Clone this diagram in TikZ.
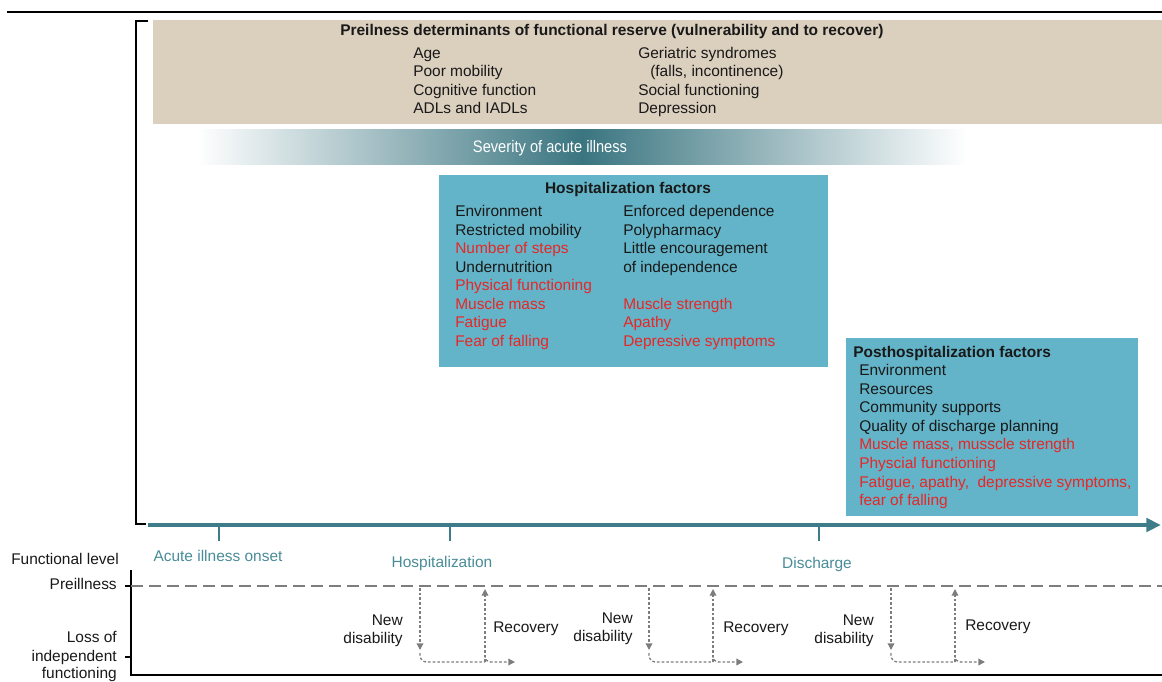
\documentclass[tikz,border=0pt]{standalone}
\usepackage{fontspec}
\setmainfont{Liberation Sans}
\newfontfamily\narrowsans[FakeStretch=0.88]{Liberation Sans}
\usetikzlibrary{arrows.meta}

\definecolor{reservebg}{RGB}{219,207,190}
\definecolor{factorbg}{RGB}{99,180,200}
\definecolor{severity}{RGB}{58,117,128}
\definecolor{timeteal}{RGB}{62,124,137}
\definecolor{timetext}{RGB}{72,140,152}
\definecolor{factorred}{RGB}{232,38,38}
\definecolor{bodytext}{RGB}{25,25,25}
\definecolor{levelgray}{RGB}{125,125,125}

\begin{document}
\begin{tikzpicture}[x=0.75pt,y=-0.75pt,
  txt/.style={inner sep=0pt, text=bodytext, font=\fontsize{11.6}{13.9}\selectfont},
  item/.style={txt, anchor=base west},
  reditem/.style={item, text=factorred},
  boxtitle/.style={txt, font=\fontsize{11.6}{13.9}\selectfont\bfseries},
  timelabel/.style={txt, anchor=base, text=timetext},
  axislabel/.style={txt, anchor=base east},
  changelabel/.style={txt, anchor=base east},
  timeline/.style={draw=timeteal, line width=3pt},
  frame/.style={draw=black, line width=1.5pt},
  changearrow/.style={draw=levelgray, line width=1pt, dash pattern=on 2pt off 1.5pt,
    -{Triangle[length=5pt,width=5pt]}},
  changeline/.style={draw=levelgray, line width=1pt, dash pattern=on 2pt off 1.5pt, rounded corners=5pt},
]
\useasboundingbox (0,0) rectangle (1162,681);

% top rule and left bracket
\draw[frame] (7,12) -- (1162,12);
\draw[frame] (148,21) -- (136,21) -- (136,524) -- (146,524);

% preillness determinants
\fill[reservebg] (153,20) rectangle (1162,124);
\node[boxtitle, anchor=base west] (restitle) at (340,35.5)
  {Preilness determinants of functional reserve (vulnerability and to recover)};
\node[item] (r1) at (413,58.5) {Age};
\node[item] (r2) at (413,77) {Poor mobility};
\node[item] (r3) at (413,95.5) {Cognitive function};
\node[item] (r4) at (413,114) {ADLs and IADLs};
\node[item] (r5) at (638,58.5) {Geriatric syndromes};
\node[item] (r6) at (650,77) {(falls, incontinence)};
\node[item] (r7) at (638,95.5) {Social functioning};
\node[item] (r8) at (638,114) {Depression};

% severity band: fades out towards both ends
\shade[left color=white, right color=severity] (197,130) rectangle (582.5,164);
\shade[left color=severity, right color=white] (582,130) rectangle (967,164);
\node[inner sep=0pt, text=white, font=\narrowsans\fontsize{12.5}{14}\selectfont] (sev) at (550,148) {Severity of acute illness};

% hospitalization factors
\fill[factorbg] (439,175) rectangle (828,367);
\node[boxtitle, anchor=base] (hosptitle) at (628,193.5) {Hospitalization factors};
\node[item] (h1) at (455,216.5) {Environment};
\node[item] (h2) at (455,235) {Restricted mobility};
\node[reditem] (h3) at (455,253.5) {Number of steps};
\node[item] (h4) at (455,272) {Undernutrition};
\node[reditem] (h5) at (455,290.5) {Physical functioning};
\node[reditem] (h6) at (455,309) {Muscle mass};
\node[reditem] (h7) at (455,327.5) {Fatigue};
\node[reditem] (h8) at (455,346) {Fear of falling};
\node[item] (h9) at (623,216.5) {Enforced dependence};
\node[item] (h10) at (623,235) {Polypharmacy};
\node[item] (h11) at (623,253.5) {Little encouragement};
\node[item] (h12) at (623,272) {of independence};
\node[reditem] (h13) at (623,309) {Muscle strength};
\node[reditem] (h14) at (623,327.5) {Apathy};
\node[reditem] (h15) at (623,346) {Depressive symptoms};

% posthospitalization factors
\fill[factorbg] (846,338) rectangle (1138,516);
\node[boxtitle, anchor=base west] (posttitle) at (853,357.5) {Posthospitalization factors};
\node[item] (p1) at (859,375.5) {Environment};
\node[item] (p2) at (859,394.1) {Resources};
\node[item] (p3) at (859,412.7) {Community supports};
\node[item] (p4) at (859,431.3) {Quality of discharge planning};
\node[reditem] (p5) at (859,449.9) {Muscle mass, musscle strength};
\node[reditem] (p6) at (859,468.5) {Physcial functioning};
\node[reditem] (p7) at (859,487.1) {Fatigue, apathy,\ \ depressive symptoms,};
\node[reditem] (p8) at (859,505.7) {fear of falling};

% timeline
\coordinate (tstart) at (148,525);
\coordinate (tend) at (1161,525);
\coordinate (onset) at (219,525);
\coordinate (admit) at (450,525);
\coordinate (discharge) at (819,525);
\draw[timeline, -{Triangle[length=11pt,width=10pt]}] (tstart) -- (tend);
\foreach \e in {onset,admit,discharge}
  \draw[draw=timeteal, line width=2.2pt] (\e) -- ++(0,16);
\node[timelabel] (onsetlbl) at (218,561.5) {Acute illness onset};
\node[timelabel] (admitlbl) at (442,567.5) {Hospitalization};
\node[timelabel] (dischlbl) at (817,568.5) {Discharge};

% functional level axes
\coordinate (ytop) at (131,570);
\coordinate (origin) at (131,675);
\coordinate (xend) at (1162,675);
\draw[frame] (ytop) -- (origin) -- (xend);
\draw[line width=1.5pt] (125,586) -- (131,586);
\draw[line width=1.5pt] (125,657) -- (131,657);
\draw[draw=levelgray, line width=1.2pt, dash pattern=on 9pt off 4.5pt] (131,586) -- (1162,586);
\node[axislabel] (fl) at (119,564.5) {Functional level};
\node[axislabel] (pre) at (117,589.5) {Preillness};
\node[axislabel] (loss1) at (117,642.5) {Loss of};
\node[axislabel] (loss2) at (117,661) {independent};
\node[axislabel] (loss3) at (117,678) {functioning};

% episodes of new disability and recovery
\foreach \k/\d/\u/\r/\lx/\nb/\rx/\rb in {
    1/420/485/515/403/625.5/493/632.5,
    2/649/713/743/633/623.5/723/632.5,
    3/891/955/985/874/625.5/965/630.5} {
  \coordinate (down\k) at (\d,588);
  \coordinate (low\k) at (\d,650);
  \coordinate (corner\k) at (\d,662);
  \coordinate (turn\k) at (\u,662);
  \coordinate (up\k) at (\u,589);
  \coordinate (ahead\k) at (\r,662);
  \draw[changearrow] (down\k) -- (low\k);
  \draw[changeline] (\d,653) -- (corner\k) -- (turn\k);
  \draw[changearrow] (turn\k) -- (up\k);
  \draw[changearrow, rounded corners=4pt] (\u,655) -- (turn\k) -- (ahead\k);
  \node[changelabel] (new\k) at (\lx,\nb) {New};
  \node[changelabel] (dis\k) at (\lx,\nb+18) {disability};
  \node[item] (rec\k) at (\rx,\rb) {Recovery};
}
\end{tikzpicture}
\end{document}
